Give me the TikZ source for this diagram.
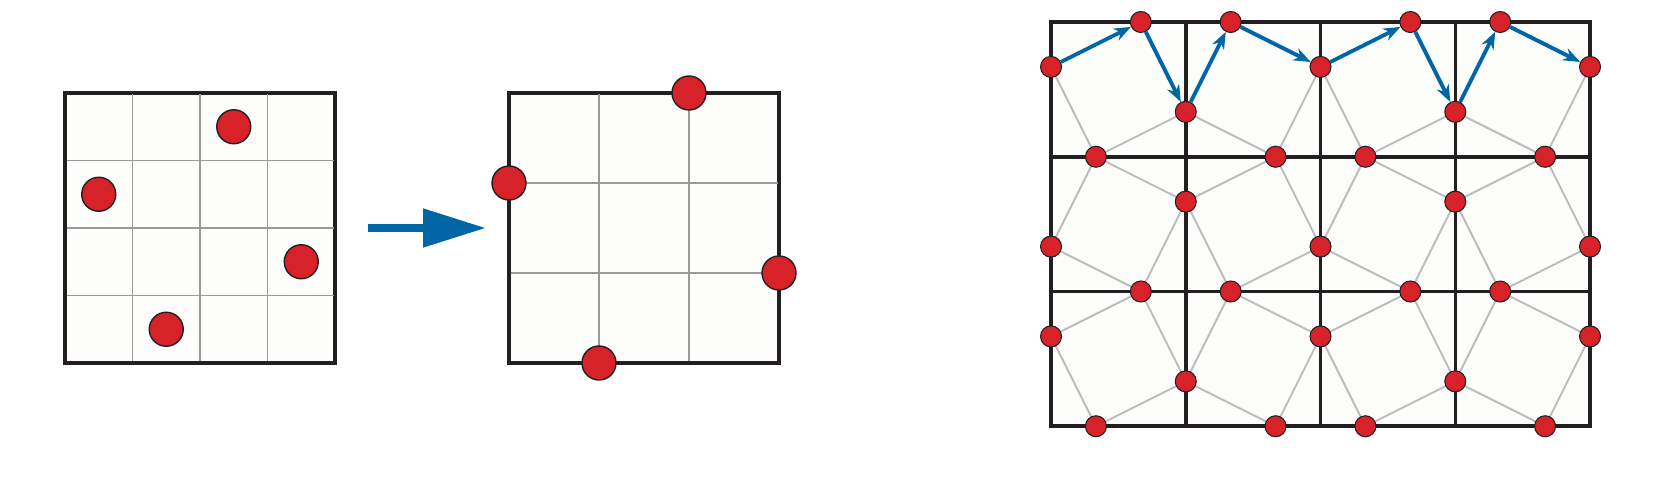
\documentclass[tikz,border=0pt]{standalone}
\usetikzlibrary{arrows.meta, positioning}
\definecolor{dotred}{HTML}{D7222A}
\definecolor{inkdark}{HTML}{231F20}
\definecolor{flowblue}{HTML}{0066A6}
\definecolor{cellgray}{HTML}{9A9A9A}
\definecolor{linkgray}{HTML}{BDBDBD}
\definecolor{paper}{HTML}{FDFDFB}

\begin{document}
\begin{tikzpicture}[
    x=0.1mm, y=-0.1mm,
    frame/.style={draw=inkdark, line width=0.9pt, fill=paper, outer sep=0pt, inner sep=0pt},
    thingrid/.style={draw=cellgray, line width=0.55pt},
    bigdot/.style={circle, draw=inkdark, fill=dotred, line width=0.4pt, minimum size=3.4mm, inner sep=0pt},
    dot/.style={circle, draw=inkdark, fill=dotred, line width=0.3pt, minimum size=2.1mm, inner sep=0pt},
    link/.style={draw=linkgray, line width=0.55pt},
    bigflow/.style={-{Triangle[length=6.3mm, width=3.7mm]}, draw=flowblue, line width=2.3pt},
    flow/.style={-{Stealth[length=1.7mm, width=1.3mm]}, draw=flowblue, line width=1.1pt},
]
    \useasboundingbox (0,0) rectangle (1662,488);

    % Before: 4x4 cells
    \node[frame, minimum size=27mm] (before) at (200,228) {};
    \foreach \k in {1,2,3} {
        \draw[thingrid] ({65+67.5*\k},94.5) -- ({65+67.5*\k},361.5);
        \draw[thingrid] (66.5,{93+67.5*\k}) -- (333.5,{93+67.5*\k});
    }
    \node[bigdot] (b1) at (233.75,126.75) {};
    \node[bigdot] (b2) at (98.75,194.25) {};
    \node[bigdot] (b3) at (301.25,261.75) {};
    \node[bigdot] (b4) at (166.25,329.25) {};

    % After: 3x3 cells, dots moved onto the border
    \node[frame, minimum size=27mm] (after) at (644,228) {};
    \foreach \k in {1,2} {
        \draw[thingrid] ({509+90*\k},94.5) -- ({509+90*\k},361.5);
        \draw[thingrid] (510.5,{93+90*\k}) -- (777.5,{93+90*\k});
    }
    \node[bigdot] (a1) at (689,93) {};
    \node[bigdot] (a2) at (509,183) {};
    \node[bigdot] (a3) at (779,273) {};
    \node[bigdot] (a4) at (599,363) {};

    \draw[bigflow, shorten <=3.3mm, shorten >=2.3mm] (before.east) -- (after.west);

    % Tiling: dot positions
    \foreach \i in {0,...,3} {
        \foreach \j in {0,...,3} {
            \pgfmathsetmacro{\f}{mod(\i+\j,2)==0 ? 2/3 : 1/3}
            \coordinate (ph-\i-\j) at ({1051+134.75*(\i+\f)}, {22+134.75*\j});
        }
    }
    \foreach \u in {0,...,4} {
        \foreach \k in {0,1,2} {
            \pgfmathsetmacro{\g}{mod(\u+\k,2)==0 ? 1/3 : 2/3}
            \coordinate (pv-\u-\k) at ({1051+134.75*\u}, {22+134.75*(\k+\g)});
        }
    }

    % Tiling: cells
    \fill[paper] (1051,22) rectangle (1590,426.25);
    \foreach \u in {1,2,3}
        \draw[inkdark, line width=1pt] ({1051+134.75*\u},22) -- ({1051+134.75*\u},426.25);
    \foreach \k in {1,2}
        \draw[inkdark, line width=1pt] (1051,{22+134.75*\k}) -- (1590,{22+134.75*\k});
    \draw[inkdark, line width=1pt] (1051,22) rectangle (1590,426.25);

    % Tiling: tilted squares
    \foreach \i in {0,...,3} {
        \foreach \k in {0,1,2} {
            \pgfmathtruncatemacro{\ii}{\i+1}
            \pgfmathtruncatemacro{\kk}{\k+1}
            \draw[link] (pv-\ii-\k) -- (ph-\i-\kk) -- (pv-\i-\k);
            \ifnum\k>0
                \draw[link] (pv-\i-\k) -- (ph-\i-\k) -- (pv-\ii-\k);
            \fi
        }
    }

    % Tiling: dots
    \foreach \i in {0,...,3}
        \foreach \j in {0,...,3}
            \node[dot] (h-\i-\j) at (ph-\i-\j) {};
    \foreach \u in {0,...,4}
        \foreach \k in {0,1,2}
            \node[dot] (v-\u-\k) at (pv-\u-\k) {};

    % Top row path
    \foreach \i in {0,...,3} {
        \pgfmathtruncatemacro{\ii}{\i+1}
        \draw[flow] (v-\i-0) -- (h-\i-0);
        \draw[flow] (h-\i-0) -- (v-\ii-0);
    }
\end{tikzpicture}
\end{document}
